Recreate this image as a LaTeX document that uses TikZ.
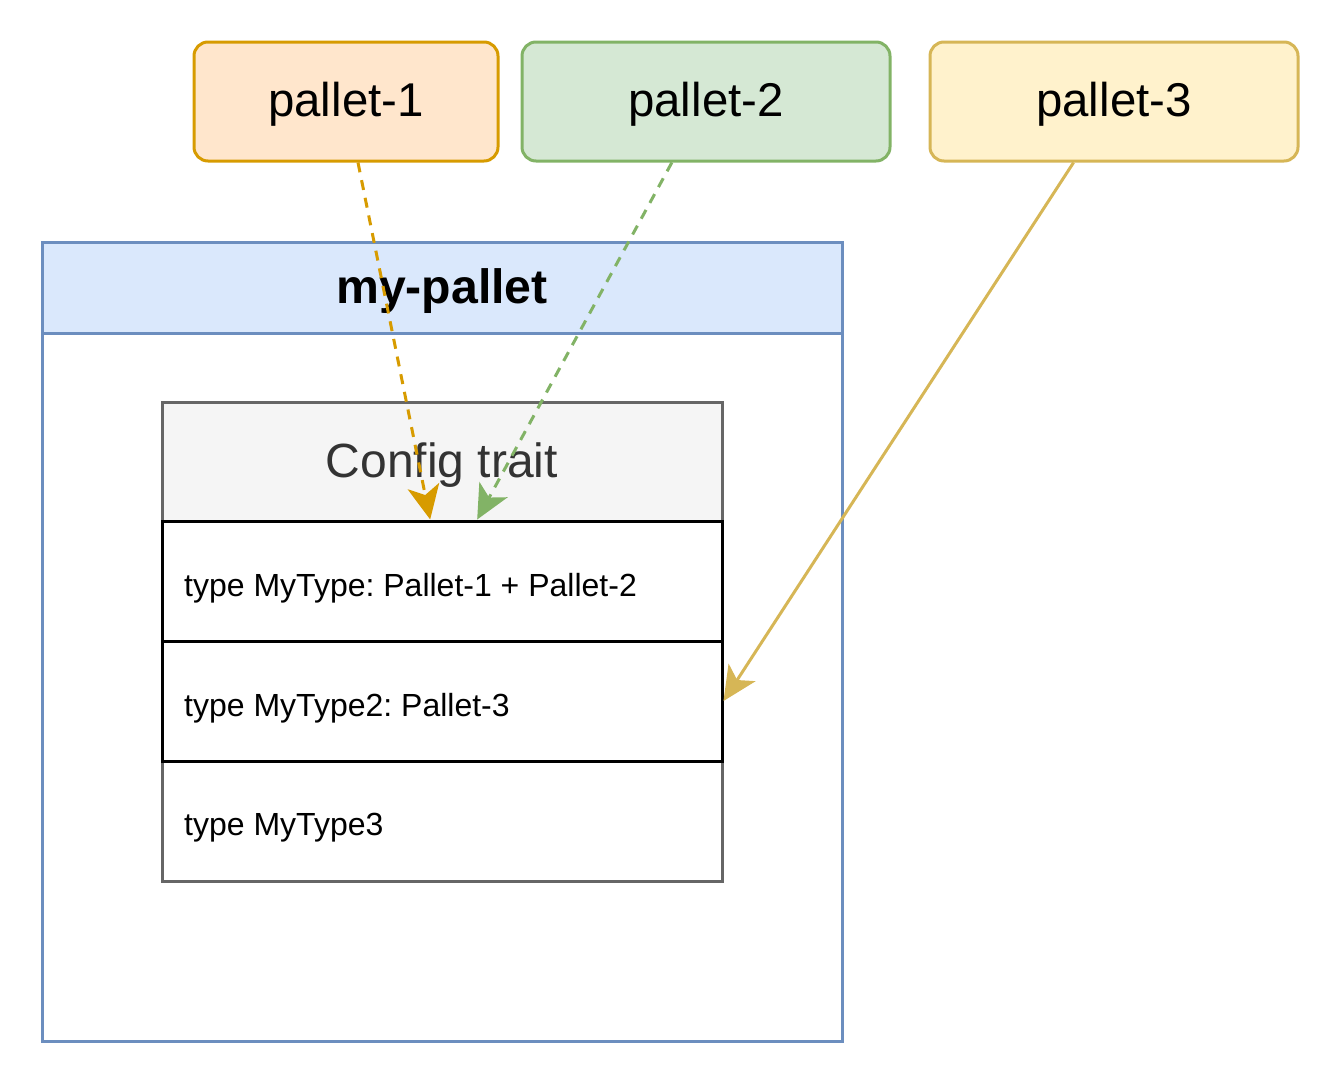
\documentclass[tikz,border=0pt]{standalone}
\usepackage{fontspec}
\setmainfont{Liberation Sans}
\usetikzlibrary{arrows.meta,calc}
\frenchspacing
\definecolor{orS}{HTML}{D79B00}
\definecolor{orF}{HTML}{FFE6CC}
\definecolor{grS}{HTML}{82B366}
\definecolor{grF}{HTML}{D5E8D4}
\definecolor{yeS}{HTML}{D6B656}
\definecolor{yeF}{HTML}{FFF2CC}
\definecolor{blS}{HTML}{6C8EBF}
\definecolor{blF}{HTML}{DAE8FC}
\definecolor{gyS}{HTML}{666666}
\definecolor{gyF}{HTML}{F5F5F5}
\definecolor{gyT}{HTML}{333333}
\begin{document}
\begin{tikzpicture}[x=1pt,y=-1pt,
  pbox/.style={draw, line width=3pt, rounded corners=14pt, minimum width=#1, minimum height=119pt, inner sep=0pt, text height=30.6pt, text depth=0pt, font=\fontsize{47.4}{52}\selectfont},
  rowbox/.style={line width=3pt, minimum width=560pt, minimum height=120pt, inner sep=0pt},
  rowtext/.style={anchor=west, inner sep=0pt, font=\fontsize{32}{38}\selectfont},
  conn/.style={line width=3pt, -{Stealth[length=34pt,width=32pt,inset=9pt]}},
  dsh/.style={dash pattern=on 10pt off 8pt}
]
\useasboundingbox (0,0) rectangle (1340,1084);
% pallets
\node[pbox=304pt, fill=orF, draw=orS] (p1) at (346,101.5) {pallet-1};
\node[pbox=368pt, fill=grF, draw=grS] (p2) at (706,101.5) {pallet-2};
\node[pbox=368pt, fill=yeF, draw=yeS] (p3) at (1114,101.5) {pallet-3};
% my-pallet container
\node[draw=blS, line width=3pt, minimum width=800pt, minimum height=799pt, inner sep=0pt] (mp) at (442,641.5) {};
\node[draw=blS, fill=blF, line width=3pt, minimum width=800pt, minimum height=91pt, inner sep=0pt, text height=31pt, text depth=0pt, font=\bfseries\fontsize{48.2}{54}\selectfont] (mph) at (442,287.5) {my-pallet};
% config trait
\node[draw=gyS, fill=gyF, line width=3pt, minimum width=560pt, minimum height=119pt, inner sep=0pt, text height=31pt, text depth=0pt, text=gyT, font=\fontsize{48}{54}\selectfont] (ct) at (442,461.5) {Config trait};
\node[rowbox, draw=gyS, fill=white] (r3) at (442,821) {};
\node[rowbox, draw=black, fill=white] (r1) at (442,581) {};
\node[rowbox, draw=black, fill=white] (r2) at (442,701) {};
\node[rowtext] (t1) at (184,588) {type MyType: Pallet-1 + Pallet-2};
\node[rowtext] (t2) at (184,708) {type MyType2: Pallet-3};
\node[rowtext] (t3) at (184,828) {type MyType3};
% connectors
\draw[conn, dsh, orS] ($(p1.south west)!0.539!(p1.south east)$) -- ($(r1.north west)!0.479!(r1.north east)$);
\draw[conn, dsh, grS] ($(p2.south west)!0.408!(p2.south east)$) -- ($(r1.north west)!0.5625!(r1.north east)$);
\draw[conn, yeS] ($(p3.south west)!0.391!(p3.south east)$) -- (r2.east);
\end{tikzpicture}
\end{document}
